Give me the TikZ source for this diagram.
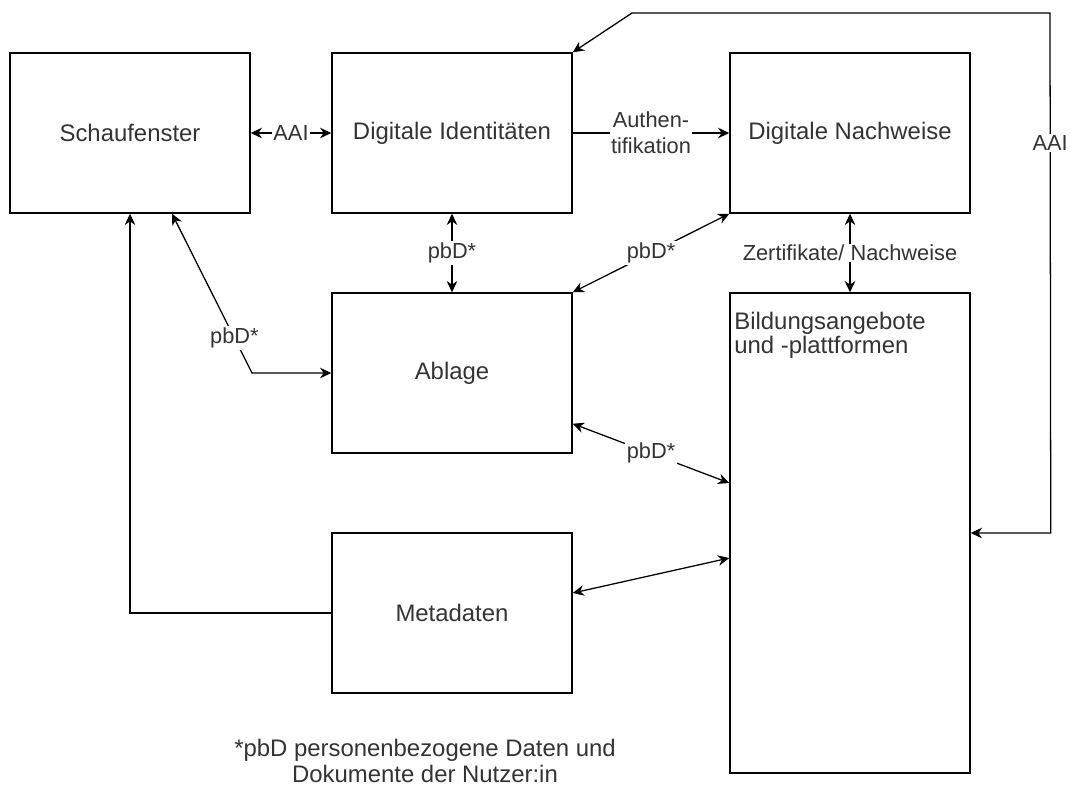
\documentclass[tikz,border=0pt]{standalone}
\usepackage{fontspec}
\setmainfont{Liberation Sans}
\usetikzlibrary{arrows.meta}
\usetikzlibrary{calc}

\begin{document}
\begin{tikzpicture}[x=0.025cm, y=-0.025cm,
    kasten/.style = {draw, line width=1pt, minimum width=6cm,
                minimum height=4cm, inner sep=0pt, text=black!80, font=\fontsize{17}{17}\selectfont},
    pfeil/.style = {line width=0.9pt, {Stealth[length=8pt,width=7.5pt]}-{Stealth[length=8pt,width=7.5pt]}},
    einpfeil/.style = {line width=0.9pt, -{Stealth[length=8pt,width=7.5pt]}},
    marke/.style = {fill=white, inner sep=1pt, font=\fontsize{15.5}{18.5}\selectfont, text=black!80}
                    ]
        \useasboundingbox (0,0) rectangle (1071,789);
        % Kaesten
        \node[kasten] (schau) at (130,133) {Schaufenster};
        \node[kasten] (ident) at (452,133) {Digitale Identitäten};
        \node[kasten] (nachw) at (850,133) {Digitale Nachweise};
        \node[kasten] (ablage) at (452,373) {Ablage};
        \node[kasten] (meta) at (452,613) {Metadaten};
        \node[kasten, minimum height=12cm] (bild) at (850,533) {};
        \node[anchor=north west, align=left, inner sep=0pt, text=black!80, font=\fontsize{17}{17}\selectfont]
            at ([xshift=0.12cm, yshift=-0.5cm]bild.north west) {Bildungsangebote\\und -plattformen};
        \coordinate (knick) at (632,13);
        % Verbindungen
        \draw[pfeil] (schau.east) -- node[marke] {AAI} (ident.west);
        \draw[einpfeil] (ident.east) -- node[marke, align=center] {Authen-\\tifikation} (nachw.west);
        \draw[pfeil] (ident.south) -- node[marke] {pbD*} (ablage.north);
        \draw[pfeil] (nachw.south west) -- node[marke] {pbD*} (ablage.north east);
        \draw[pfeil] (nachw.south) -- node[marke] {Zertifikate/ Nachweise} (bild.north);
        \draw[pfeil] ([xshift=1.05cm]schau.south) -- node[marke, pos=0.78] {pbD*} (252,373) -- (ablage.west);
        \draw[pfeil] ([yshift=0.75cm]ablage.south east) -- node[marke] {pbD*} ([yshift=1.25cm]bild.west);
        \draw[pfeil] ([yshift=0.5cm]meta.east) -- ([yshift=-0.625cm]bild.west);
        \draw[einpfeil] (meta.west) -| (schau.south);
        \draw[pfeil] (bild.east) -- ++(80,0) -- node[marke, pos=0.75] {AAI} (1050,13) -- (knick) -- (ident.north east);
        % Fussnote
        \node[align=center, font=\fontsize{17}{18}\selectfont, text=black!80] (fussnote) at (425,761)
            {*pbD personenbezogene Daten und\\Dokumente der Nutzer:in};
    \end{tikzpicture}
\end{document}
